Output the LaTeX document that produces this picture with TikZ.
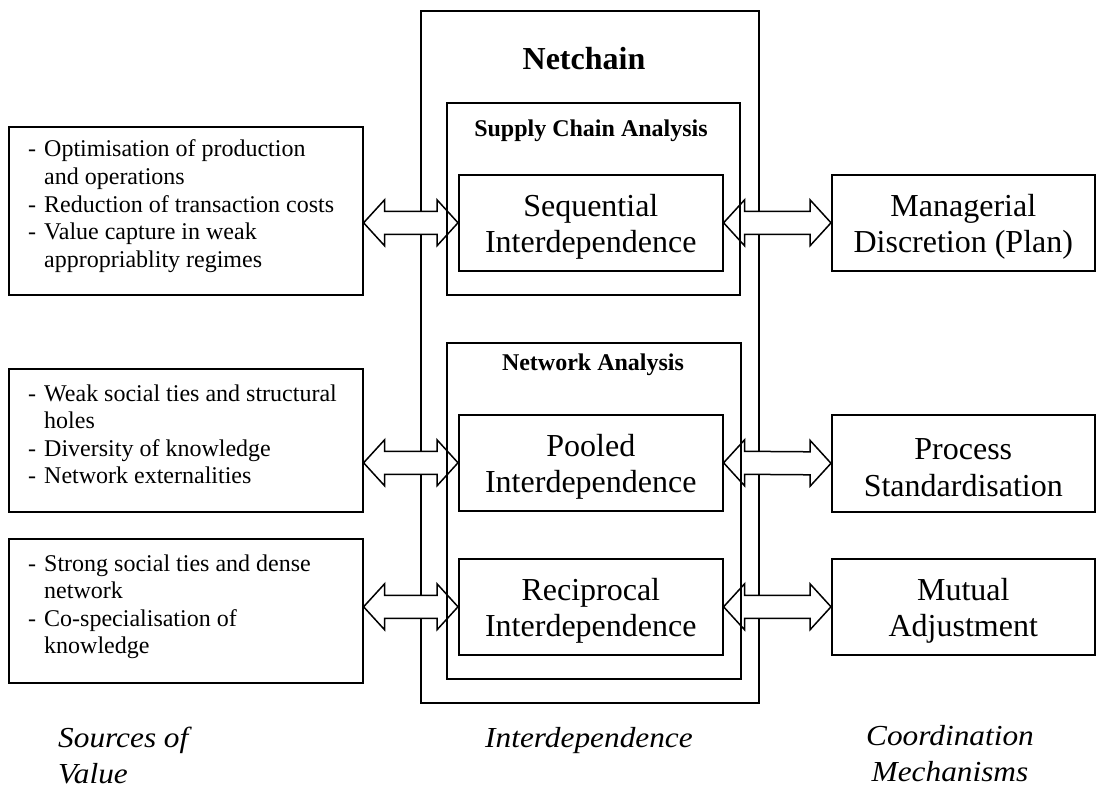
\documentclass[tikz,border=0pt]{standalone}
\usepackage{fontspec}
\setmainfont{Liberation Serif}
\newfontfamily\captionfont[FakeStretch=1.08]{Liberation Serif}
\usetikzlibrary{calc}

% Double-headed block arrow between two points lying on one horizontal line
\newcommand\fatarrow[2]{%
  \draw[fatarrow] (#1) -- ($(#1)+(21,-23)$) -- ($(#1)+(21,-11.5)$)
    -- ($(#2)+(-21,-11.5)$) -- ($(#2)+(-21,-23)$) -- (#2)
    -- ($(#2)+(-21,23)$) -- ($(#2)+(-21,11.5)$)
    -- ($(#1)+(21,11.5)$) -- ($(#1)+(21,23)$) -- cycle;}

\begin{document}
\begin{tikzpicture}[x=1pt,y=-1pt,
  box/.style={draw, line width=1.6pt, inner sep=0pt, anchor=north west},
  bigtext/.style={align=center, inner sep=0pt, font=\fontsize{32}{36.8}\selectfont},
  listtext/.style={inner sep=0pt, anchor=base west, font=\fontsize{24}{27.6}\selectfont},
  maintitle/.style={inner sep=0pt, anchor=base, font=\bfseries\fontsize{32}{36.8}\selectfont},
  subtitle/.style={inner sep=0pt, anchor=base, font=\bfseries\fontsize{24}{27.6}\selectfont},
  caption/.style={inner sep=0pt, font=\captionfont\itshape\fontsize{29}{36}\selectfont},
  fatarrow/.style={draw, fill=white, line width=1.5pt, line join=miter},
]
\useasboundingbox (0,0) rectangle (1096,789);

% Netchain frame
\node[box, minimum width=338pt, minimum height=692pt] (net) at (420,10) {};
\node[maintitle] (nettitle) at (584,70) {Netchain};

% Sources of value
\node[box, minimum width=354pt, minimum height=168pt] (src1) at (8,126) {};
\node[listtext] (src1txt) at (28,157) {\begin{tabular}[t]{@{}l@{\hspace{8pt}}l@{}}
  - & Optimisation of production\\
    & and operations\\
  - & Reduction of transaction costs\\
  - & Value capture in weak\\
    & appropriablity regimes\end{tabular}};

\node[box, minimum width=354pt, minimum height=143pt] (src2) at (8,368) {};
\node[listtext] (src2txt) at (28,401) {\begin{tabular}[t]{@{}l@{\hspace{8pt}}l@{}}
  - & Weak social ties and structural\\
    & holes\\
  - & Diversity of knowledge\\
  - & Network externalities\end{tabular}};

\node[box, minimum width=354pt, minimum height=144pt] (src3) at (8,538) {};
\node[listtext] (src3txt) at (28,571) {\begin{tabular}[t]{@{}l@{\hspace{8pt}}l@{}}
  - & Strong social ties and dense\\
    & network\\
  - & Co-specialisation of\\
    & knowledge\end{tabular}};

% Interdependence types
\node[box, minimum width=264pt, minimum height=96pt] (seq) at (458,174) {};
\node[bigtext] (seqtxt) at ($(seq.center)+(0,4)$) {Sequential\\Interdependence};
\node[box, minimum width=264pt, minimum height=96pt] (pool) at (458,414) {};
\node[bigtext] (pooltxt) at ($(pool.center)+(0,4)$) {Pooled\\Interdependence};
\node[box, minimum width=264pt, minimum height=96pt] (recip) at (458,558) {};
\node[bigtext] (reciptxt) at ($(recip.center)+(0,4)$) {Reciprocal\\Interdependence};

% Coordination mechanisms
\node[box, minimum width=263pt, minimum height=96pt] (plan) at (831,174) {};
\node[bigtext] (plantxt) at ($(plan.center)+(0,4)$) {Managerial\\Discretion (Plan)};
\node[box, minimum width=263pt, minimum height=97pt] (std) at (831,414) {};
\node[bigtext] (stdtxt) at ($(std.center)+(0,4)$) {Process\\Standardisation};
\node[box, minimum width=263pt, minimum height=96pt] (mut) at (831,558) {};
\node[bigtext] (muttxt) at ($(mut.center)+(0,4)$) {Mutual\\Adjustment};

% Block arrows
\coordinate (a1) at (src1.east |- seq.west);
\coordinate (a2) at (src2.east |- pool.west);
\coordinate (a3) at (src3.east |- recip.west);
\fatarrow{a1}{seq.west}
\fatarrow{a2}{pool.west}
\fatarrow{a3}{recip.west}
\fatarrow{seq.east}{plan.west}
\fatarrow{pool.east}{std.west}
\fatarrow{recip.east}{mut.west}

% Analysis frames, drawn over the arrows
\node[box, minimum width=293pt, minimum height=192pt] (sca) at (446,102) {};
\node[subtitle] (scatitle) at (591,137) {Supply Chain Analysis};
\node[box, minimum width=294pt, minimum height=336pt] (nwa) at (446,342) {};
\node[subtitle] (nwatitle) at (593,370) {Network Analysis};

% Column captions
\node[caption, anchor=base west] (capsrc) at (58,747)
  {\begin{tabular}[t]{@{}l@{}}Sources of\\Value\end{tabular}};
\node[caption, anchor=base] (capint) at (589,747) {Interdependence};
\node[caption, anchor=base] (capcoord) at (950,745)
  {\begin{tabular}[t]{@{}c@{}}Coordination\\Mechanisms\end{tabular}};
\end{tikzpicture}
\end{document}
